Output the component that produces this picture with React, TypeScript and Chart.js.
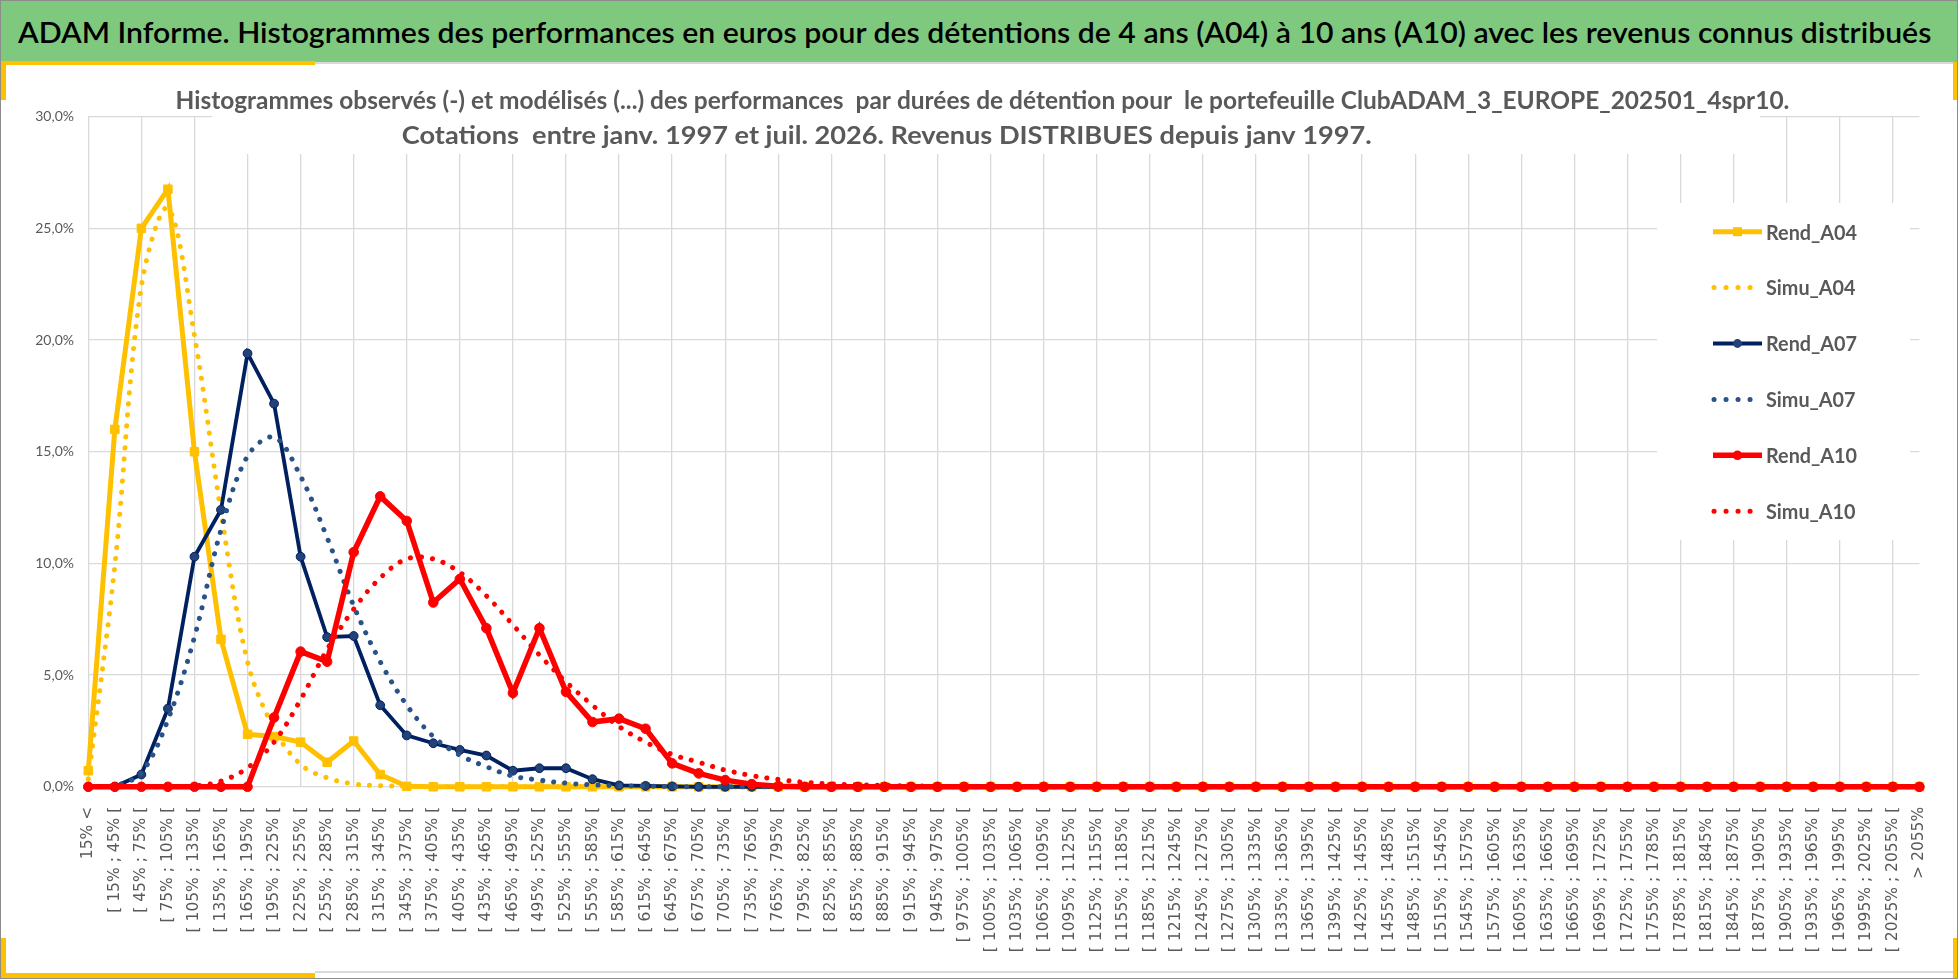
import React, { useEffect, useRef } from "react";
import { Chart, registerables } from "chart.js";

Chart.register(...registerables);

// bins of performance (x axis)
const CATEGORIES = [
  "15% <",
  "[ 15% ; 45% [", "[ 45% ; 75% [", "[ 75% ; 105% [", "[ 105% ; 135% [", "[ 135% ; 165% [",
  "[ 165% ; 195% [", "[ 195% ; 225% [", "[ 225% ; 255% [", "[ 255% ; 285% [", "[ 285% ; 315% [",
  "[ 315% ; 345% [", "[ 345% ; 375% [", "[ 375% ; 405% [", "[ 405% ; 435% [", "[ 435% ; 465% [",
  "[ 465% ; 495% [", "[ 495% ; 525% [", "[ 525% ; 555% [", "[ 555% ; 585% [", "[ 585% ; 615% [",
  "[ 615% ; 645% [", "[ 645% ; 675% [", "[ 675% ; 705% [", "[ 705% ; 735% [", "[ 735% ; 765% [",
  "[ 765% ; 795% [", "[ 795% ; 825% [", "[ 825% ; 855% [", "[ 855% ; 885% [", "[ 885% ; 915% [",
  "[ 915% ; 945% [", "[ 945% ; 975% [", "[ 975% ; 1005% [", "[ 1005% ; 1035% [", "[ 1035% ; 1065% [",
  "[ 1065% ; 1095% [", "[ 1095% ; 1125% [", "[ 1125% ; 1155% [", "[ 1155% ; 1185% [", "[ 1185% ; 1215% [",
  "[ 1215% ; 1245% [", "[ 1245% ; 1275% [", "[ 1275% ; 1305% [", "[ 1305% ; 1335% [", "[ 1335% ; 1365% [",
  "[ 1365% ; 1395% [", "[ 1395% ; 1425% [", "[ 1425% ; 1455% [", "[ 1455% ; 1485% [", "[ 1485% ; 1515% [",
  "[ 1515% ; 1545% [", "[ 1545% ; 1575% [", "[ 1575% ; 1605% [", "[ 1605% ; 1635% [", "[ 1635% ; 1665% [",
  "[ 1665% ; 1695% [", "[ 1695% ; 1725% [", "[ 1725% ; 1755% [", "[ 1755% ; 1785% [", "[ 1785% ; 1815% [",
  "[ 1815% ; 1845% [", "[ 1845% ; 1875% [", "[ 1875% ; 1905% [", "[ 1905% ; 1935% [", "[ 1935% ; 1965% [",
  "[ 1965% ; 1995% [", "[ 1995% ; 2025% [", "[ 2025% ; 2055% [",
  "> 2055%",
];

// values in % (one per category)
const REND_A04 = [
  0.72, 16.0, 25.0, 26.75, 15.0, 6.6, 2.35, 2.25, 2.0, 1.1,
  2.05, 0.55, 0.02, 0, 0, 0, 0, 0, 0, 0,
  0, 0, 0, 0, 0, 0, 0, 0, 0, 0,
  0, 0, 0, 0, 0, 0, 0, 0, 0, 0,
  0, 0, 0, 0, 0, 0, 0, 0, 0, 0,
  0, 0, 0, 0, 0, 0, 0, 0, 0, 0,
  0, 0, 0, 0, 0, 0, 0, 0, 0, 0,
];
const SIMU_A04 = [
  0.35, 9.9, 22.4, 25.9, 20.2, 12.3, 5.6, 2.6, 1.0, 0.4,
  0.13, 0.05, 0.02, 0, 0, 0, 0, 0, 0, 0,
  0, 0, 0, 0, 0, 0, 0, 0, 0, 0,
  0, 0, 0, 0, 0, 0, 0, 0, 0, 0,
  0, 0, 0, 0, 0, 0, 0, 0, 0, 0,
  0, 0, 0, 0, 0, 0, 0, 0, 0, 0,
  0, 0, 0, 0, 0, 0, 0, 0, 0, 0,
];
const REND_A07 = [
  0, 0, 0.55, 3.5, 10.3, 12.4, 19.4, 17.15, 10.3, 6.7,
  6.75, 3.65, 2.3, 1.95, 1.65, 1.4, 0.72, 0.83, 0.83, 0.34,
  0.06, 0.04, 0.02, 0, 0, 0, 0, 0, 0, 0,
  0, 0, 0, 0, 0, 0, 0, 0, 0, 0,
  0, 0, 0, 0, 0, 0, 0, 0, 0, 0,
  0, 0, 0, 0, 0, 0, 0, 0, 0, 0,
  0, 0, 0, 0, 0, 0, 0, 0, 0, 0,
];
const SIMU_A07 = [
  0, 0.05, 0.63, 3.0, 6.7, 11.5, 14.8, 15.65, 13.9, 11.15,
  8.1, 5.6, 3.65, 2.25, 1.42, 0.9, 0.48, 0.3, 0.16, 0.09,
  0.05, 0.03, 0.01, 0, 0, 0, 0, 0, 0, 0,
  0, 0, 0, 0, 0, 0, 0, 0, 0, 0,
  0, 0, 0, 0, 0, 0, 0, 0, 0, 0,
  0, 0, 0, 0, 0, 0, 0, 0, 0, 0,
  0, 0, 0, 0, 0, 0, 0, 0, 0, 0,
];
const REND_A10 = [
  0, 0, 0, 0, 0, 0, 0, 3.1, 6.05, 5.6,
  10.5, 13.0, 11.9, 8.25, 9.3, 7.1, 4.2, 7.1, 4.25, 2.9,
  3.05, 2.6, 1.05, 0.6, 0.3, 0.12, 0.03, 0, 0, 0,
  0, 0, 0, 0, 0, 0, 0, 0, 0, 0,
  0, 0, 0, 0, 0, 0, 0, 0, 0, 0,
  0, 0, 0, 0, 0, 0, 0, 0, 0, 0,
  0, 0, 0, 0, 0, 0, 0, 0, 0, 0,
];
const SIMU_A10 = [
  0, 0, 0, 0, 0.03, 0.25, 0.85, 2.0, 3.9, 6.15,
  7.95, 9.35, 10.2, 10.2, 9.6, 8.55, 7.25, 5.9, 4.7, 3.65,
  2.7, 2.0, 1.45, 1.1, 0.75, 0.5, 0.33, 0.2, 0.13, 0.09,
  0.06, 0.04, 0.02, 0.01, 0, 0, 0, 0, 0, 0,
  0, 0, 0, 0, 0, 0, 0, 0, 0, 0,
  0, 0, 0, 0, 0, 0, 0, 0, 0, 0,
  0, 0, 0, 0, 0, 0, 0, 0, 0, 0,
];

const HEADER =
  "ADAM Informe. Histogrammes des performances en euros pour des détentions de 4 ans (A04) à 10 ans (A10) avec les revenus connus distribués";
const TITLE_LINES = [
  "Histogrammes observés (-) et modélisés (...) des performances  par durées de détention pour  le portefeuille ClubADAM_3_EUROPE_202501_4spr10.",
  "Cotations  entre janv. 1997 et juil. 2026. Revenus DISTRIBUES depuis janv 1997.",
];

const YELLOW = "#FFC000";
const NAVY = "#002060";
const STEEL = "#29528A";
const RED = "#FF0000";
const GREY_TEXT = "#595959";
const GRID = "#D9D9D9";
const DOTS = [0.1, 11];

// draw text horizontally scaled by k (optionally centred on x)
function scaledText(ctx: CanvasRenderingContext2D, text: string, x: number, y: number, k: number, centred = false) {
  const w = ctx.measureText(text).width * k;
  ctx.save();
  ctx.translate(centred ? x - w / 2 : x, y);
  ctx.scale(k, 1);
  ctx.fillText(text, 0, 0);
  ctx.restore();
}

// title box + legend laid over the grid, under the lines (like the Excel chart)
const overlayPlugin = {
  id: "overlay",
  beforeDatasetsDraw(chart: any) {
    const ctx: CanvasRenderingContext2D = chart.ctx;
    const top = chart.chartArea.top;
    ctx.save();
    ctx.fillStyle = "#FFFFFF";
    ctx.fillRect(212, top - 3, 1548, 90 - top + 3);
    ctx.fillStyle = GREY_TEXT;
    ctx.font = "bold 24px Lato, 'DejaVu Sans', sans-serif";
    ctx.textBaseline = "alphabetic";
    const k1 = 1525 / ctx.measureText(TITLE_LINES[0]).width;
    const k2 = 1018 / ctx.measureText(TITLE_LINES[1]).width;
    const kt = (k1 + k2) / 2;
    scaledText(ctx, TITLE_LINES[0], 982.5, 45, (k1 + kt) / 2, true);
    scaledText(ctx, TITLE_LINES[1], 886.8, 79.5, (k2 + kt) / 2, true);

    // legend
    ctx.fillStyle = "#FFFFFF";
    ctx.fillRect(1657, 139, 253, 337);
    ctx.font = "bold 21px Lato, 'DejaVu Sans', sans-serif";
    const k = 91 / ctx.measureText("Rend_A04").width;
    chart.data.datasets.forEach((ds: any, i: number) => {
      const y = 167.7 + i * 55.9;
      const dotted = !!ds.borderDash;
      ctx.save();
      ctx.strokeStyle = ds.borderColor;
      ctx.lineWidth = ds.borderWidth;
      if (dotted) {
        ctx.lineCap = "round";
        ctx.setLineDash([0.1, 11.9]);
        ctx.beginPath();
        ctx.moveTo(1714, y);
        ctx.lineTo(1751, y);
        ctx.stroke();
      } else {
        ctx.beginPath();
        ctx.moveTo(1713, y);
        ctx.lineTo(1762, y);
        ctx.stroke();
        ctx.fillStyle = ds.pointBackgroundColor;
        if (ds.pointStyle === "rect") {
          ctx.fillRect(1737.5 - 4.5, y - 4.5, 9, 9);
        } else {
          ctx.beginPath();
          ctx.arc(1737.5, y, ds.pointRadius, 0, Math.PI * 2);
          ctx.fill();
        }
      }
      ctx.restore();
      ctx.fillStyle = GREY_TEXT;
      scaledText(ctx, ds.label, 1766, y + 7.8, k);
    });
    ctx.restore();
  },
};

function Header() {
  const spanRef = useRef<HTMLSpanElement | null>(null);
  useEffect(() => {
    const el = spanRef.current;
    if (el) {
      el.style.transform = `scaleX(${1913 / el.offsetWidth})`;
    }
  }, []);
  return (
    <div
      style={{
        position: "absolute",
        left: 0,
        top: 0,
        width: 1958,
        height: 62,
        background: "#7EC97E",
      }}
    >
      <span
        ref={spanRef}
        style={{
          position: "absolute",
          left: 18,
          top: 14.9,
          display: "inline-block",
          whiteSpace: "nowrap",
          transformOrigin: "0 0",
          font: "600 28.5px/1.2 Lato, 'DejaVu Sans', sans-serif",
          color: "#000000",
        }}
      >
        {HEADER}
      </span>
    </div>
  );
}

function PerfChart() {
  const chartRef = useRef<HTMLCanvasElement | null>(null);
  const chartInstanceRef = useRef<Chart | null>(null);

  useEffect(() => {
    if (!chartRef.current) return;
    if (chartInstanceRef.current) chartInstanceRef.current.destroy();

    const solid = (label: string, data: number[], color: string, width: number, style: string, radius: number, fill: string, order: number) => ({
      label,
      data,
      borderColor: color,
      borderWidth: width,
      pointStyle: style,
      pointRadius: radius,
      pointBackgroundColor: fill,
      pointBorderColor: color,
      pointBorderWidth: 1,
      tension: 0,
      fill: false,
      clip: false,
      order,
    });
    const dotted = (label: string, data: number[], color: string, order: number) => ({
      label,
      data,
      borderColor: color,
      borderWidth: 5,
      borderDash: DOTS,
      borderCapStyle: "round",
      pointRadius: 0,
      tension: 0.35,
      fill: false,
      clip: false,
      order,
    });

    chartInstanceRef.current = new Chart(chartRef.current, {
      type: "line",
      data: {
        labels: CATEGORIES,
        datasets: [
          solid("Rend_A04", REND_A04, YELLOW, 5, "rect", 6, YELLOW, 5),
          dotted("Simu_A04", SIMU_A04, YELLOW, 4),
          solid("Rend_A07", REND_A07, NAVY, 3.8, "circle", 4.4, "#23427A", 3),
          dotted("Simu_A07", SIMU_A07, STEEL, 2),
          solid("Rend_A10", REND_A10, RED, 5.5, "circle", 4.8, RED, 1),
          dotted("Simu_A10", SIMU_A10, RED, 0),
        ] as any,
      },
      options: {
        animation: false,
        responsive: true,
        maintainAspectRatio: false,
        events: [],
        layout: { padding: { top: 52.6, right: 11.3, bottom: 0, left: 0 } },
        plugins: {
          legend: { display: false },
          title: { display: false },
          tooltip: { enabled: false },
        },
        scales: {
          x: {
            grid: {
              color: (c: any) => (c.index % 2 === 0 ? GRID : "rgba(0,0,0,0)"),
              lineWidth: 1.3,
              drawTicks: false,
            },
            border: { display: false },
            ticks: {
              autoSkip: false,
              maxRotation: 90,
              minRotation: 90,
              padding: 20,
              color: GREY_TEXT,
              font: { family: "'DejaVu Sans', sans-serif", size: 15.5 },
            },
            afterFit: (s: any) => {
              s.height = 192.2;
            },
          },
          y: {
            min: 0,
            max: 30,
            grid: { color: GRID, lineWidth: 1.3, drawTicks: false },
            border: { display: false },
            ticks: {
              stepSize: 5,
              padding: 14.3,
              color: GREY_TEXT,
              font: { family: "Lato, sans-serif", size: 14 },
              callback: (v: any) => Number(v).toFixed(1).replace(".", ",") + "%",
            },
            afterFit: (s: any) => {
              s.width = 88.3;
            },
          },
        },
      } as any,
      plugins: [overlayPlugin],
    });

    return () => {
      if (chartInstanceRef.current) {
        chartInstanceRef.current.destroy();
        chartInstanceRef.current = null;
      }
    };
  }, []);

  return (
    <div style={{ position: "absolute", left: 0, top: 64, width: 1958, height: 915 }}>
      <canvas ref={chartRef} />
    </div>
  );
}

export default function App() {
  useEffect(() => {
    document.body.style.margin = "0";
  }, []);

  const bar = (left: number, top: number, width: number, height: number, color: string) => (
    <div style={{ position: "absolute", left, top, width, height, background: color }} />
  );

  return (
    <div
      style={{
        position: "relative",
        width: 1958,
        height: 979,
        overflow: "hidden",
        background: "#FFFFFF",
      }}
    >
      <Header />
      <PerfChart />
      {bar(315, 62, 1643, 2, GRID)}
      {bar(315, 971, 1643, 1.5, GRID)}
      {bar(0, 61, 315, 3.5, YELLOW)}
      {bar(0, 62, 6, 38, YELLOW)}
      {bar(1953, 62, 5, 38, YELLOW)}
      {bar(0, 973, 315, 6, YELLOW)}
      {bar(0, 938, 6, 41, YELLOW)}
      {bar(1953, 938, 5, 41, YELLOW)}
      <div
        style={{
          position: "absolute",
          inset: 0,
          border: "1px solid #8C8C8C",
          pointerEvents: "none",
        }}
      />
    </div>
  );
}
